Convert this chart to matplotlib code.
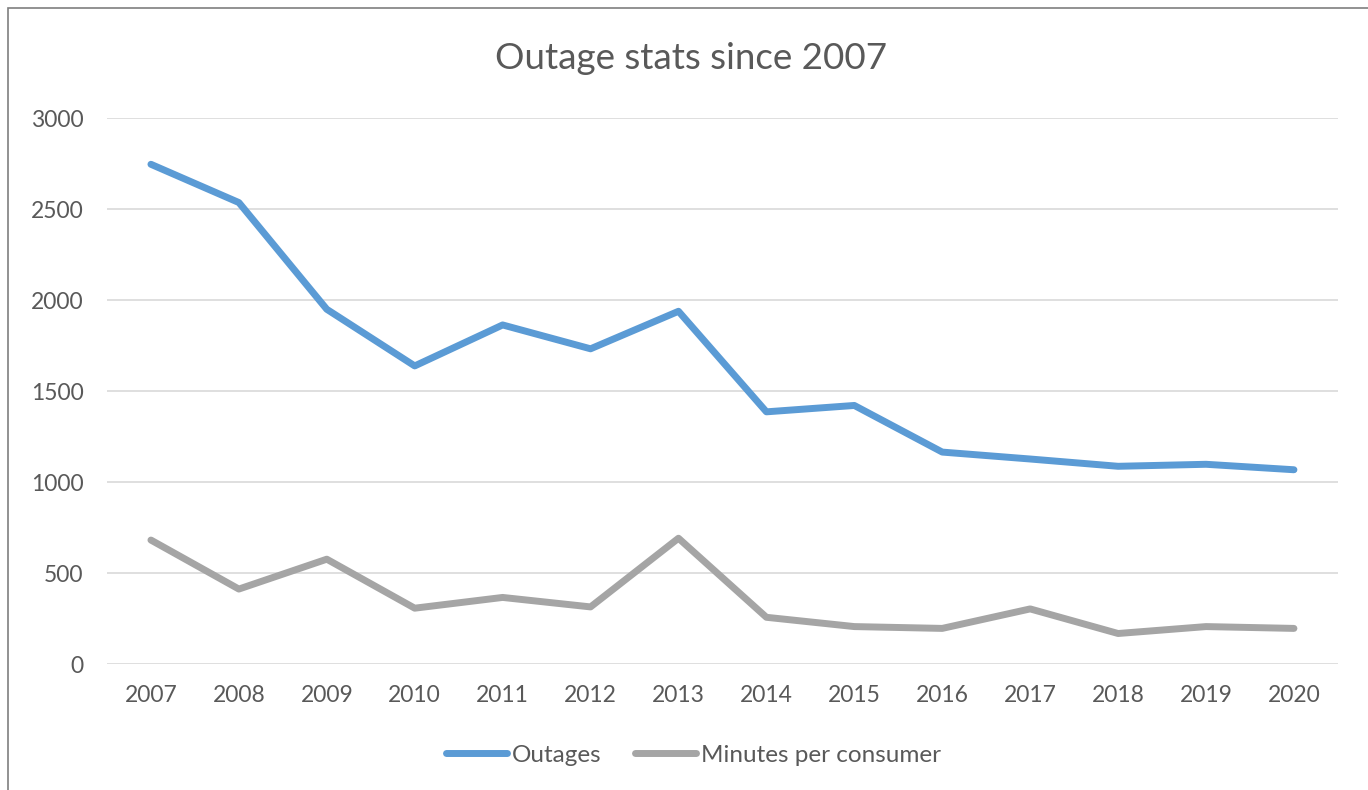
import matplotlib.pyplot as plt
from matplotlib.patches import Rectangle

years = ["2007", "2008", "2009", "2010", "2011", "2012", "2013",
         "2014", "2015", "2016", "2017", "2018", "2019", "2020"]
outages = [2746, 2536, 1950, 1639, 1864, 1733, 1939,
           1387, 1422, 1166, 1128, 1088, 1099, 1069]
minutes = [683, 414, 578, 309, 368, 316, 693,
           259, 208, 198, 305, 170, 208, 198]

plt.rcParams['font.family'] = ['Lato', 'DejaVu Sans']

fig = plt.figure(figsize=(13.68, 7.9), dpi=100)
ax = fig.add_axes([0.0782, 0.1589, 0.978 - 0.0782, 0.8506 - 0.1589])

x = range(len(years))
ax.plot(x, outages, color="#5B9BD5", lw=5, solid_capstyle="round",
        solid_joinstyle="round", label="Outages", zorder=3)
ax.plot(x, minutes, color="#A5A5A5", lw=5, solid_capstyle="round",
        solid_joinstyle="round", label="Minutes per consumer", zorder=3)

ax.set_xlim(-0.5, len(years) - 0.5)
ax.set_ylim(0, 3000)
ax.set_yticks(range(0, 3001, 500))
ax.set_xticks(list(x))
ax.set_xticklabels(years)
ax.grid(axis="y", color="#D9D9D9", lw=1.2)
ax.set_axisbelow(True)
for s in ax.spines.values():
    s.set_visible(False)
ax.tick_params(axis="y", length=0, pad=17, labelsize=16.5, labelcolor="#595959")
ax.tick_params(axis="x", length=0, pad=15, labelsize=16.5, labelcolor="#595959")

fig.text(0.5055, 0.926, "Outage stats since 2007", ha="center", va="center",
         fontsize=26.5, color="#595959")

leg = fig.legend(loc="center", bbox_to_anchor=(0.507, 0.044), ncol=2, frameon=False,
                 fontsize=17.5, handlelength=2.5, handletextpad=0.2, columnspacing=1.4)
for t in leg.get_texts():
    t.set_color("#595959")

# chart border (only left and top edges fall inside the picture)
fig.patches.append(Rectangle((8 / 1368, -0.1), 1.2, 1 - 8 / 790 + 0.1,
                             transform=fig.transFigure, fill=False,
                             edgecolor="#7F7F7F", lw=1.2))

fig.savefig("out.png", dpi=100)
